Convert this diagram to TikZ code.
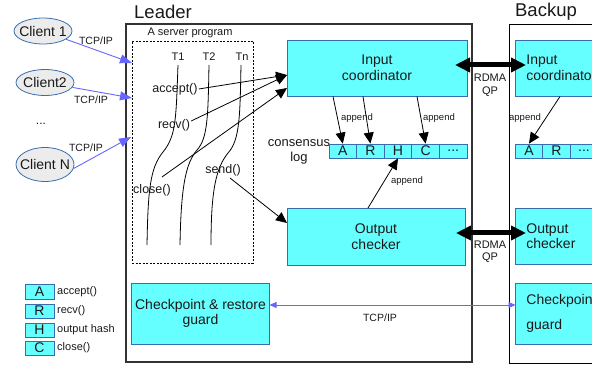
\documentclass[tikz,border=0pt]{standalone}
\usepackage{fontspec}
\setmainfont{Liberation Sans}
\usetikzlibrary{arrows.meta,shapes.geometric}
\definecolor{cyf}{RGB}{102,255,255}
\definecolor{bdr}{RGB}{56,110,175}
\definecolor{tcpb}{RGB}{102,102,255}
\definecolor{elf}{RGB}{236,236,236}
\definecolor{txt}{RGB}{25,25,25}
\begin{document}
\begin{tikzpicture}[x=1pt,y=-1pt,
  every node/.style={text=txt},
  box/.style={draw=bdr, fill=cyf, line width=0.8pt, inner sep=0pt, align=center, font=\fontsize{14}{15.5}\selectfont},
  cell/.style={draw=bdr, fill=cyf, line width=0.8pt, inner sep=0pt, minimum width=27.6pt, minimum height=14pt, font=\fontsize{14}{14}\selectfont},
  client/.style={ellipse, draw=bdr, fill=elf, line width=0.8pt, inner sep=0pt, minimum width=58pt, minimum height=26pt, font=\fontsize{14}{14}\selectfont},
  ttl/.style={font=\fontsize{18.5}{20}\selectfont},
  call/.style={font=\fontsize{12.5}{14}\selectfont, inner sep=1pt},
  thr/.style={font=\fontsize{11}{12}\selectfont},
  tcp/.style={font=\fontsize{10.5}{12}\selectfont},
  app/.style={font=\fontsize{9.5}{11}\selectfont, inner sep=0pt},
  leg/.style={font=\fontsize{11}{12}\selectfont, anchor=west, inner sep=0pt},
  rdmatxt/.style={font=\fontsize{11}{12.5}\selectfont, align=center},
  blk/.style={-{Triangle[length=11pt,width=10pt]}, line width=0.8pt, draw=black},
  tcparrow/.style={-{Triangle[length=12pt,width=9pt]}, line width=0.9pt, draw=tcpb},
  tcpdouble/.style={{Triangle[length=7pt,width=6pt]}-{Triangle[length=7pt,width=6pt]}, line width=0.8pt, draw=tcpb},
  rdma/.style={{Triangle[length=15pt,width=14pt]}-{Triangle[length=15pt,width=14pt]}, line width=5pt, draw=black},
  thread/.style={line width=0.8pt, draw=black}
]
\useasboundingbox (0,0) rectangle (592,366);
\clip (0,0) rectangle (592,366);

% frames
\node[draw=black!80, line width=1.3pt, minimum width=346pt, minimum height=338pt, inner sep=0pt] (leader) at (299,193) {};
\node[draw=black, line width=1pt, minimum width=191pt, minimum height=338pt, inner sep=0pt] (backup) at (604.5,194) {};
\node[ttl] (leadertitle) at (163,12) {Leader};
\node[ttl] (backuptitle) at (546,12) {Backup};

% server program
\node[draw=black, line width=0.9pt, dash pattern=on 2pt off 1.5pt, minimum width=121pt, minimum height=222pt, inner sep=0pt] (srv) at (192.5,152) {};
\node[thr] (srvlbl) at (190,33) {A server program};
\node[thr] (t1) at (178,57) {T1};
\node[thr] (t2) at (209,57) {T2};
\node[thr] (tn) at (242,57) {Tn};

\draw[thread] (178,65) .. controls (176,120) and (176,136) .. (163,152) .. controls (150,168) and (148,190) .. (147,245);
\draw[thread] (209,65) .. controls (208,115) and (208,138) .. (197,150) .. controls (186,163) and (181,185) .. (180,245);
\draw[thread] (241,65) .. controls (240,115) and (240,140) .. (228,153) .. controls (216,168) and (211,190) .. (211,245);

\node[call] (acc) at (175,89) {accept()};
\node[call] (rcv) at (174,125) {recv()};
\node[call] (cls) at (152,190) {close()};
\node[call] (snd) at (223,170) {send()};

% main boxes
\node[box, minimum width=180pt, minimum height=56pt] (ic) at (377,68) {Input\\coordinator};
\node[box, minimum width=178pt, minimum height=57pt] (oc) at (376,236.5) {Output\\checker};
\node[box, minimum width=138pt, minimum height=61pt] (cp) at (200.5,313.5) {Checkpoint \& restore\\guard};

\node[box, anchor=west, minimum height=56pt, text width=162pt, inner xsep=11pt, align=left] (bic) at (515,68) {Input\\coordinator};
\node[box, anchor=west, minimum height=56pt, text width=162pt, inner xsep=11pt, align=left] (boc) at (515,236) {Output\\checker};
\node[box, anchor=west, minimum height=61pt, text width=162pt, inner xsep=11pt, align=left] (bcp) at (515,313.5) {Checkpoint \& restore\\[9pt]guard};

% consensus log
\node[font=\fontsize{13}{15}\selectfont, align=center] (loglbl) at (299,152) {consensus\\log};
\node[cell] (lA) at (342.8,151) {A};
\node[cell] (lR) at (370.4,151) {R};
\node[cell] (lH) at (398.0,151) {H};
\node[cell] (lC) at (425.6,151) {C};
\node[cell] (lD) at (453.2,151) {...};

\node[cell] (bA) at (529,151) {A};
\node[cell] (bR) at (556.5,151) {R};
\node[cell] (bD) at (584,151) {...};

% clients
\node[client] (c1) at (43,31) {\makebox[0pt]{Client 1}};
\node[client] (c2) at (45,82.5) {\makebox[0pt]{Client2}};
\node[font=\fontsize{12}{12}\selectfont] (cdots) at (41,124) {...};
\node[client, minimum height=34pt] (cn) at (45,164.5) {\makebox[0pt]{Client N}};

\coordinate (in1) at (132,63);
\coordinate (in2) at (132,98);
\coordinate (in3) at (131,137);
\draw[tcparrow] (c1) -- (in1);
\draw[tcparrow] (c2) -- (in2);
\draw[tcparrow] (cn.-8) -- (in3);
\node[tcp] (tcp1) at (96,41) {TCP/IP};
\node[tcp] (tcp2) at (91,100) {TCP/IP};
\node[tcp] (tcp3) at (86,148) {TCP/IP};

% calls to boxes
\coordinate (ict1) at (287,75);
\coordinate (ict2) at (287,88);
\coordinate (oct) at (287,223);
\draw[blk] (acc.east) -- (ict1);
\draw[blk] ([yshift=4pt]rcv.east) -- (ict1);
\draw[blk] ([xshift=10pt,yshift=6pt]cls.north) -- (ict2);
\draw[blk] ([xshift=7pt,yshift=-1pt]snd.south) -- (oct);

% appends
\coordinate (ap1) at (333,96.5);
\coordinate (ap2) at (363,96.5);
\coordinate (ap3) at (417,96.5);
\coordinate (ap4) at (368,208);
\coordinate (ap5) at (560,96.5);
\draw[blk] (ap1) -- (lA.north);
\draw[blk] (ap2) -- (lR.north);
\draw[blk] (ap3) -- (lC.north);
\draw[blk] (ap4) -- (lH.south);
\draw[blk] (ap5) -- (bA.north);
\node[app] (apl1) at (357,118) {append};
\node[app] (apl2) at (439,118) {append};
\node[app] (apl3) at (407,181) {append};
\node[app] (apl4) at (525,118) {append};

% RDMA
\coordinate (r1a) at (455,65);
\coordinate (r1b) at (526,65);
\coordinate (r2a) at (456,233);
\coordinate (r2b) at (526,233);
\draw[rdma] (r1a) -- (r1b);
\draw[rdma] (r2a) -- (r2b);
\node[rdmatxt] (rd1) at (490,85.5) {RDMA\\QP};
\node[rdmatxt] (rd2) at (490,252) {RDMA\\QP};

% checkpoint TCP
\coordinate (cpa) at (269.5,305);
\coordinate (cpb) at (515.5,305);
\draw[tcpdouble] (cpa) -- (cpb);
\node[tcp] (tcp4) at (380,318) {TCP/IP};

% legend
\node[cell, minimum width=29pt, minimum height=15pt] (gA) at (39.5,291.5) {A};
\node[cell, minimum width=29pt, minimum height=14pt] (gR) at (39.5,311) {R};
\node[cell, minimum width=29pt, minimum height=14pt] (gH) at (39.5,330) {H};
\node[cell, minimum width=29pt, minimum height=14pt] (gC) at (39.5,348) {C};
\node[leg] (gAl) at (57,291.5) {accept()};
\node[leg] (gRl) at (57,311) {recv()};
\node[leg] (gHl) at (57,330) {output hash};
\node[leg] (gCl) at (57,348) {close()};
\end{tikzpicture}
\end{document}
